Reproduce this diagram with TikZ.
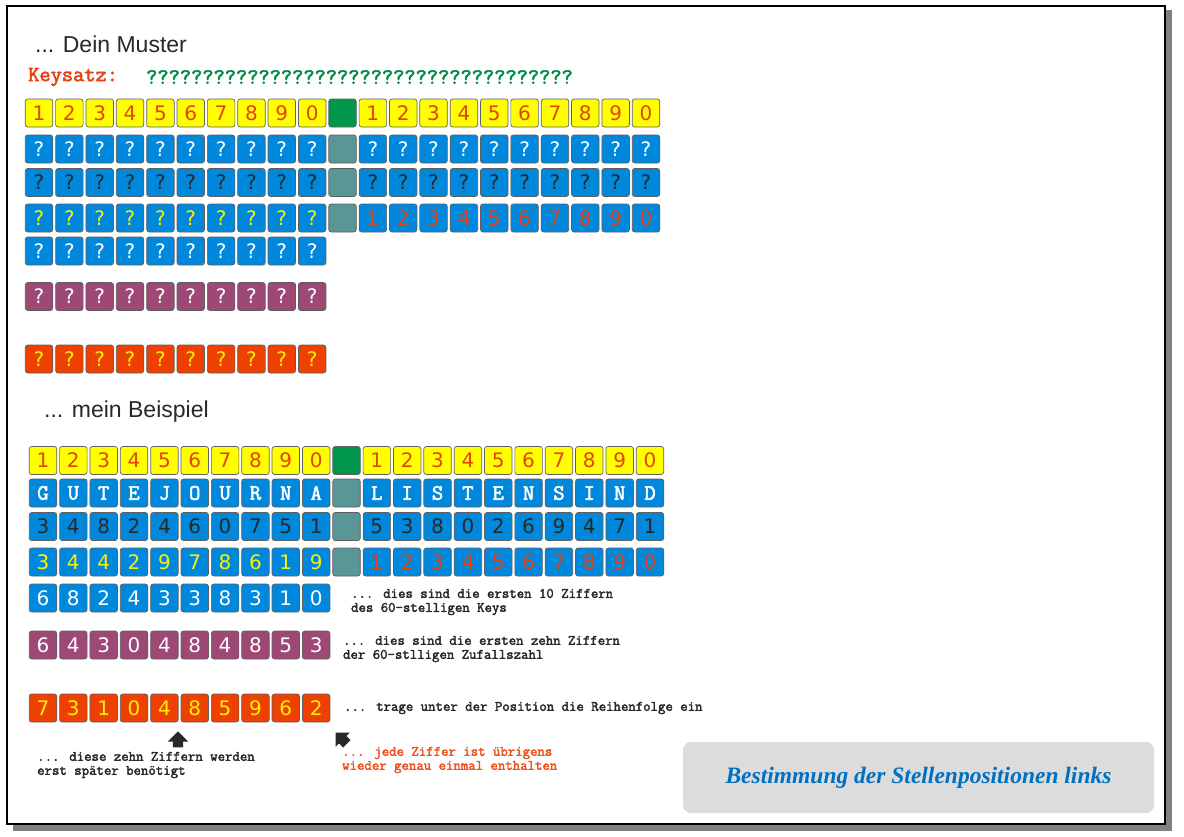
\documentclass[tikz,border=0pt]{standalone}
\usepackage{fontspec}
\usetikzlibrary{positioning,shapes.arrows}

\newfontfamily\verdfont{DejaVu Sans}
\newfontfamily\arialfont{Liberation Sans}
\newfontfamily\timesfont{Liberation Serif}
\newfontfamily\courfont[FakeBold=2.5]{Latin Modern Mono}

\definecolor{cellyellow}{RGB}{255,255,0}
\definecolor{cellblue}{RGB}{0,136,221}
\definecolor{cellteal}{RGB}{90,150,150}
\definecolor{cellgreen}{RGB}{0,150,75}
\definecolor{cellpurple}{RGB}{158,72,118}
\definecolor{cellorange}{RGB}{238,64,0}
\definecolor{cellline}{RGB}{95,95,95}
\definecolor{digitred}{RGB}{232,64,16}
\definecolor{qyellow}{RGB}{255,240,0}
\definecolor{darktext}{RGB}{40,40,40}
\definecolor{keygreen}{RGB}{0,140,70}
\definecolor{noteorange}{RGB}{240,80,30}
\definecolor{titleblue}{RGB}{0,112,192}
\definecolor{boxgray}{RGB}{221,220,221}
\definecolor{shadowgray}{RGB}{128,128,128}

\begin{document}
\begin{tikzpicture}[x=1pt, y=-1pt,
  cell/.style = {
        draw=cellline, line width=0.7pt, rounded corners=2.5pt,
        minimum width=27.5pt, minimum height=28pt,
        inner sep=0pt, outer sep=0pt,
        font=\verdfont\fontsize{20}{20}\selectfont},
 ycell/.style = {cell, fill=cellyellow, text=digitred},
 bcell/.style = {cell, fill=cellblue, text=white},
 dcell/.style = {cell, fill=cellblue, text=darktext},
 qcell/.style = {cell, fill=cellblue, text=qyellow},
 rcell/.style = {cell, fill=cellblue, text=digitred},
 lcell/.style = {cell, fill=cellblue, text=white,
        font=\courfont\fontsize{22}{22}\selectfont},
 pcell/.style = {cell, fill=cellpurple, text=white},
 ocell/.style = {cell, fill=cellorange, text=qyellow},
 gcell/.style = {cell, fill=cellgreen},
 tcell/.style = {cell, fill=cellteal},
   heading/.style = {anchor=west, inner sep=0pt, text=darktext,
        font=\arialfont\fontsize{23}{26}\selectfont},
   keyline/.style = {anchor=west, inner sep=0pt,
        font=\courfont\fontsize{21.8}{22}\selectfont},
   note/.style = {inner sep=0pt, align=left, text=darktext,
        font=\courfont\fontsize{14.4}{14}\selectfont},
   blockarrow/.style = {single arrow, draw=none, fill=darktext,
        minimum height=16pt, inner sep=5pt,
        single arrow head extend=5pt},
   titlebox/.style = {fill=boxgray, rounded corners=8pt,
        minimum width=471pt, minimum height=71pt, text=titleblue,
        font=\timesfont\bfseries\itshape\fontsize{23.5}{26}\selectfont}
                    ]
\useasboundingbox (0,0) rectangle (1184,836);
% the sheet with its shadow
\fill[white] (0,0) rectangle (1184,836);
\fill[shadowgray] (1165,10) rectangle (1172,831);
\fill[shadowgray] (13,824) rectangle (1172,831);
\draw[line width=1.3pt, fill=white] (7,6) rectangle (1165,824);

% the pattern
\node[heading] (muster) at (35,44) {... Dein Muster};
\node[keyline, text=digitred] (keysatz) at (28,77) {Keysatz:};
\node[keyline, text=keygreen] (keyq) at (146,77)
        {??????????????????????????????????????};

\foreach \t [count=\i] in {1,2,3,4,5,6,7,8,9,0}
    \node[ycell] (ya\i) at ({8.65+30.35*\i},113) {\t};
\node[gcell] (ya11) at ({8.65+30.35*11},113) {};
\foreach \t [count=\i from 12] in {1,2,3,4,5,6,7,8,9,0}
    \node[ycell] (ya\i) at ({8.65+30.35*\i},113) {\t};

\foreach \i in {1,...,21}{
    \ifnum\i=11
        \node[tcell] (qa\i) at ({8.65+30.35*\i},149) {};
        \node[tcell] (qb\i) at ({8.65+30.35*\i},182.5) {};
        \node[tcell] (qc\i) at ({8.65+30.35*\i},218) {};
    \else
        \node[bcell] (qa\i) at ({8.65+30.35*\i},149) {?};
        \node[dcell] (qb\i) at ({8.65+30.35*\i},182.5) {?};
    \fi
}
\foreach \i in {1,...,10}{
    \node[qcell] (qc\i) at ({8.65+30.35*\i},218) {?};
    \node[bcell] (qd\i) at ({8.65+30.35*\i},251) {?};
    \node[pcell] (qe\i) at ({8.65+30.35*\i},296.5) {?};
    \node[ocell] (qf\i) at ({8.65+30.35*\i},359) {?};
}
\foreach \t [count=\i from 12] in {1,2,3,4,5,6,7,8,9,0}
    \node[rcell] (qc\i) at ({8.65+30.35*\i},218) {\t};

% the example
\node[heading] (beispiel) at (44,412) {... mein Beispiel};

\foreach \t [count=\i] in {1,2,3,4,5,6,7,8,9,0}
    \node[ycell] (pa\i) at ({12.65+30.35*\i},460.5) {\t};
\node[gcell] (pa11) at ({12.65+30.35*11},460.5) {};
\foreach \t [count=\i from 12] in {1,2,3,4,5,6,7,8,9,0}
    \node[ycell] (pa\i) at ({12.65+30.35*\i},460.5) {\t};

\foreach \t [count=\i] in {G,U,T,E,J,O,U,R,N,A,{},L,I,S,T,E,N,S,I,N,D}{
    \ifnum\i=11
        \node[tcell] (la\i) at ({12.65+30.35*\i},493) {};
    \else
        \node[lcell] (la\i) at ({12.65+30.35*\i},493) {\t};
    \fi
}
\foreach \t [count=\i] in {3,4,8,2,4,6,0,7,5,1,{},5,3,8,0,2,6,9,4,7,1}{
    \ifnum\i=11
        \node[tcell] (da\i) at ({12.65+30.35*\i},526.5) {};
    \else
        \node[dcell] (da\i) at ({12.65+30.35*\i},526.5) {\t};
    \fi
}
\foreach \t [count=\i] in {3,4,4,2,9,7,8,6,1,9}
    \node[qcell] (sa\i) at ({12.65+30.35*\i},562) {\t};
\node[tcell] (sa11) at ({12.65+30.35*11},562) {};
\foreach \t [count=\i from 12] in {1,2,3,4,5,6,7,8,9,0}
    \node[rcell] (sa\i) at ({12.65+30.35*\i},562) {\t};

\foreach \t [count=\i] in {6,8,2,4,3,3,8,3,1,0}
    \node[bcell] (ka\i) at ({12.65+30.35*\i},598) {\t};
\foreach \t [count=\i] in {6,4,3,0,4,8,4,8,5,3}
    \node[pcell] (za\i) at ({12.65+30.35*\i},645) {\t};
\foreach \t [count=\i] in {7,3,1,0,4,8,5,9,6,2}
    \node[ocell] (ra\i) at ({12.65+30.35*\i},708) {\t};

% the notes
\node[note, right=21pt of ka10, yshift=-4pt] (noteKey)
        {... dies sind die ersten 10 Ziffern\\des 60-stelligen Keys};
\node[note, right=13pt of za10, yshift=-4pt] (noteRand)
        {... dies sind die ersten zehn Ziffern\\der 60-stlligen Zufallszahl};
\node[note, right=14pt of ra10] (noteOrder)
        {... trage unter der Position die Reihenfolge ein};
\node[blockarrow, shape border rotate=90] (upArrow) at (178,742) {};
\node[blockarrow, shape border rotate=90, rotate=45] (nwArrow) at (343,740) {};
\node[note, anchor=west] (noteLater) at (37,765)
        {... diese zehn Ziffern werden\\erst später benötigt};
\node[note, anchor=west, text=noteorange] (noteOnce) at (342,760)
        {... jede Ziffer ist übrigens\\wieder genau einmal enthalten};

% the caption
\node[titlebox] (caption) at (918.5,777.5)
        {Bestimmung der Stellenpositionen links};
\end{tikzpicture}
\end{document}
